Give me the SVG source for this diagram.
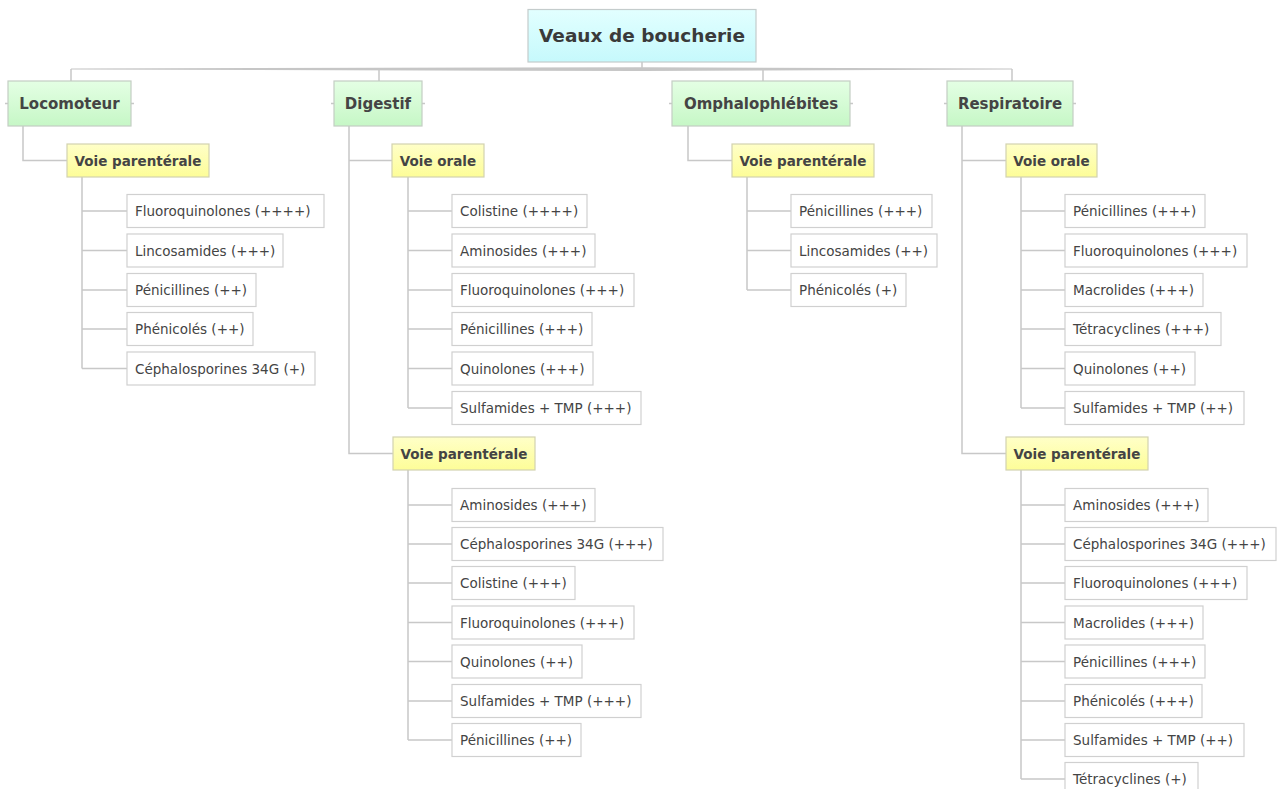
<svg xmlns="http://www.w3.org/2000/svg" width="1285" height="789" viewBox="0 0 1285 789">
<defs>
<linearGradient id="gRoot" x1="0" y1="0" x2="0" y2="1"><stop offset="0" stop-color="#e2ffff"/><stop offset="1" stop-color="#c6f9fc"/></linearGradient>
<linearGradient id="gL1" x1="0" y1="0" x2="0" y2="1"><stop offset="0" stop-color="#e4ffe4"/><stop offset="1" stop-color="#c6f7c6"/></linearGradient>
<linearGradient id="gL2" x1="0" y1="0" x2="0" y2="1"><stop offset="0" stop-color="#ffffc8"/><stop offset="1" stop-color="#fdfd98"/></linearGradient>
<style>
.root{fill:url(#gRoot);stroke:#c4cccc;stroke-width:1.2}
.l1{fill:url(#gL1);stroke:#c4cec4;stroke-width:1.2}
.l2{fill:url(#gL2);stroke:#d2d2b0;stroke-width:1.2}
.leaf{fill:#ffffff;stroke:#d0d0d0;stroke-width:1.2}
.tr{font-family:"DejaVu Sans",Verdana,sans-serif;font-weight:bold;font-size:18.5px;fill:#3a3a3a;text-anchor:middle}
.t1{font-family:"DejaVu Sans",Verdana,sans-serif;font-weight:bold;font-size:15px;fill:#444;text-anchor:middle}
.t2{font-family:"DejaVu Sans",Verdana,sans-serif;font-weight:bold;font-size:13.5px;fill:#444;text-anchor:middle}
.tl{font-family:"DejaVu Sans",Verdana,sans-serif;font-size:13.5px;fill:#444}
.c{fill:none;stroke:#c8c8c8;stroke-width:1.5}
</style>
</defs>
<rect width="1285" height="789" fill="#ffffff"/>

<g id="connectors">
<polygon points="71,68.5 642,67.3 1012,68.5 1012,69.5 642,71 71,69.5" fill="#c6c6c6"/>
<path class="c" d="M642,62V68 M71,69V81 M379,69V81 M763,69V81 M1012,69V81"/>
<path class="c" d="M5,103.5H8 M131,103.5H134 M331,103.5H334 M422,103.5H425 M669,103.5H672 M850,103.5H853 M944,103.5H947 M1073,103.5H1076"/>
<path class="c" d="M23,126V160.5H67"/>
<path class="c" d="M349,126V453.5H393 M349,160.5H392"/>
<path class="c" d="M688,126V160.5H732"/>
<path class="c" d="M962,126V453.5H1006 M962,160.5H1006"/>
<path class="c" d="M82,177V368.5 M82,211H127 M82,250.5H127 M82,290H127 M82,329H127 M82,368.5H127"/>
<path class="c" d="M408,177V408 M408,211H452 M408,250.5H452 M408,290H452 M408,329H452 M408,368.5H452 M408,408H452"/>
<path class="c" d="M408,470V740 M408,505H452 M408,544H452 M408,583H452 M408,622.5H452 M408,661.5H452 M408,701H452 M408,740H452"/>
<path class="c" d="M747,177V290 M747,211H791 M747,250.5H791 M747,290H791"/>
<path class="c" d="M1021,177V408 M1021,211H1065 M1021,250.5H1065 M1021,290H1065 M1021,329H1065 M1021,368.5H1065 M1021,408H1065"/>
<path class="c" d="M1021,470V779 M1021,505H1065 M1021,544H1065 M1021,583H1065 M1021,622.5H1065 M1021,661.5H1065 M1021,701H1065 M1021,740H1065 M1021,779H1065"/>
</g>

<g id="root"><rect class="root" x="528" y="9.5" width="228" height="52.5"/><text class="tr" x="642" y="42">Veaux de boucherie</text></g>

<g id="locomoteur"><rect class="l1" x="8" y="81" width="123" height="45"/><text class="t1" x="69.5" y="109">Locomoteur</text></g>
<g id="digestif"><rect class="l1" x="334" y="81" width="88" height="45"/><text class="t1" x="378" y="109">Digestif</text></g>
<g id="omphalophlebites"><rect class="l1" x="672" y="81" width="178" height="45"/><text class="t1" x="761" y="109">Omphalophlébites</text></g>
<g id="respiratoire"><rect class="l1" x="947" y="81" width="126" height="45"/><text class="t1" x="1010" y="109">Respiratoire</text></g>

<g id="loco-vp"><rect class="l2" x="67" y="144" width="142" height="33"/><text class="t2" x="138" y="165.5">Voie parentérale</text></g>
<g id="dig-vo"><rect class="l2" x="392" y="144" width="92" height="33"/><text class="t2" x="438" y="165.5">Voie orale</text></g>
<g id="dig-vp"><rect class="l2" x="393" y="437" width="142" height="33"/><text class="t2" x="464" y="458.5">Voie parentérale</text></g>
<g id="omph-vp"><rect class="l2" x="732" y="144" width="142" height="33"/><text class="t2" x="803" y="165.5">Voie parentérale</text></g>
<g id="resp-vo"><rect class="l2" x="1006" y="144" width="91" height="33"/><text class="t2" x="1051.5" y="165.5">Voie orale</text></g>
<g id="resp-vp"><rect class="l2" x="1006" y="437" width="142" height="33"/><text class="t2" x="1077" y="458.5">Voie parentérale</text></g>

<g id="loco-vp-1"><rect class="leaf" x="127" y="194.5" width="197" height="33"/><text class="tl" x="135" y="216">Fluoroquinolones (++++)</text></g>
<g id="loco-vp-2"><rect class="leaf" x="127" y="234" width="156" height="33"/><text class="tl" x="135" y="255.5">Lincosamides (+++)</text></g>
<g id="loco-vp-3"><rect class="leaf" x="127" y="273.5" width="129" height="33"/><text class="tl" x="135" y="295">Pénicillines (++)</text></g>
<g id="loco-vp-4"><rect class="leaf" x="127" y="312.5" width="126" height="33"/><text class="tl" x="135" y="334">Phénicolés (++)</text></g>
<g id="loco-vp-5"><rect class="leaf" x="127" y="352" width="188" height="33"/><text class="tl" x="135" y="373.5">Céphalosporines 34G (+)</text></g>

<g id="dig-vo-1"><rect class="leaf" x="452" y="194.5" width="135" height="33"/><text class="tl" x="460" y="216">Colistine (++++)</text></g>
<g id="dig-vo-2"><rect class="leaf" x="452" y="234" width="143" height="33"/><text class="tl" x="460" y="255.5">Aminosides (+++)</text></g>
<g id="dig-vo-3"><rect class="leaf" x="452" y="273.5" width="182" height="33"/><text class="tl" x="460" y="295">Fluoroquinolones (+++)</text></g>
<g id="dig-vo-4"><rect class="leaf" x="452" y="312.5" width="140" height="33"/><text class="tl" x="460" y="334">Pénicillines (+++)</text></g>
<g id="dig-vo-5"><rect class="leaf" x="452" y="352" width="141" height="33"/><text class="tl" x="460" y="373.5">Quinolones (+++)</text></g>
<g id="dig-vo-6"><rect class="leaf" x="452" y="391.5" width="189" height="33"/><text class="tl" x="460" y="413">Sulfamides + TMP (+++)</text></g>

<g id="dig-vp-1"><rect class="leaf" x="452" y="488.5" width="143" height="33"/><text class="tl" x="460" y="510">Aminosides (+++)</text></g>
<g id="dig-vp-2"><rect class="leaf" x="452" y="527.5" width="211" height="33"/><text class="tl" x="460" y="549">Céphalosporines 34G (+++)</text></g>
<g id="dig-vp-3"><rect class="leaf" x="452" y="566.5" width="123" height="33"/><text class="tl" x="460" y="588">Colistine (+++)</text></g>
<g id="dig-vp-4"><rect class="leaf" x="452" y="606" width="182" height="33"/><text class="tl" x="460" y="627.5">Fluoroquinolones (+++)</text></g>
<g id="dig-vp-5"><rect class="leaf" x="452" y="645" width="130" height="33"/><text class="tl" x="460" y="666.5">Quinolones (++)</text></g>
<g id="dig-vp-6"><rect class="leaf" x="452" y="684.5" width="189" height="33"/><text class="tl" x="460" y="706">Sulfamides + TMP (+++)</text></g>
<g id="dig-vp-7"><rect class="leaf" x="452" y="723.5" width="129" height="33"/><text class="tl" x="460" y="745">Pénicillines (++)</text></g>

<g id="omph-vp-1"><rect class="leaf" x="791" y="194.5" width="141" height="33"/><text class="tl" x="799" y="216">Pénicillines (+++)</text></g>
<g id="omph-vp-2"><rect class="leaf" x="791" y="234" width="146" height="33"/><text class="tl" x="799" y="255.5">Lincosamides (++)</text></g>
<g id="omph-vp-3"><rect class="leaf" x="791" y="273.5" width="115" height="33"/><text class="tl" x="799" y="295">Phénicolés (+)</text></g>

<g id="resp-vo-1"><rect class="leaf" x="1065" y="194.5" width="140" height="33"/><text class="tl" x="1073" y="216">Pénicillines (+++)</text></g>
<g id="resp-vo-2"><rect class="leaf" x="1065" y="234" width="182" height="33"/><text class="tl" x="1073" y="255.5">Fluoroquinolones (+++)</text></g>
<g id="resp-vo-3"><rect class="leaf" x="1065" y="273.5" width="138" height="33"/><text class="tl" x="1073" y="295">Macrolides (+++)</text></g>
<g id="resp-vo-4"><rect class="leaf" x="1065" y="312.5" width="156" height="33"/><text class="tl" x="1073" y="334">Tétracyclines (+++)</text></g>
<g id="resp-vo-5"><rect class="leaf" x="1065" y="352" width="130" height="33"/><text class="tl" x="1073" y="373.5">Quinolones (++)</text></g>
<g id="resp-vo-6"><rect class="leaf" x="1065" y="391.5" width="179" height="33"/><text class="tl" x="1073" y="413">Sulfamides + TMP (++)</text></g>

<g id="resp-vp-1"><rect class="leaf" x="1065" y="488.5" width="143" height="33"/><text class="tl" x="1073" y="510">Aminosides (+++)</text></g>
<g id="resp-vp-2"><rect class="leaf" x="1065" y="527.5" width="211" height="33"/><text class="tl" x="1073" y="549">Céphalosporines 34G (+++)</text></g>
<g id="resp-vp-3"><rect class="leaf" x="1065" y="566.5" width="182" height="33"/><text class="tl" x="1073" y="588">Fluoroquinolones (+++)</text></g>
<g id="resp-vp-4"><rect class="leaf" x="1065" y="606" width="138" height="33"/><text class="tl" x="1073" y="627.5">Macrolides (+++)</text></g>
<g id="resp-vp-5"><rect class="leaf" x="1065" y="645" width="140" height="33"/><text class="tl" x="1073" y="666.5">Pénicillines (+++)</text></g>
<g id="resp-vp-6"><rect class="leaf" x="1065" y="684.5" width="137" height="33"/><text class="tl" x="1073" y="706">Phénicolés (+++)</text></g>
<g id="resp-vp-7"><rect class="leaf" x="1065" y="723.5" width="179" height="33"/><text class="tl" x="1073" y="745">Sulfamides + TMP (++)</text></g>
<g id="resp-vp-8"><rect class="leaf" x="1065" y="762.5" width="133" height="33"/><text class="tl" x="1073" y="784">Tétracyclines (+)</text></g>
</svg>
